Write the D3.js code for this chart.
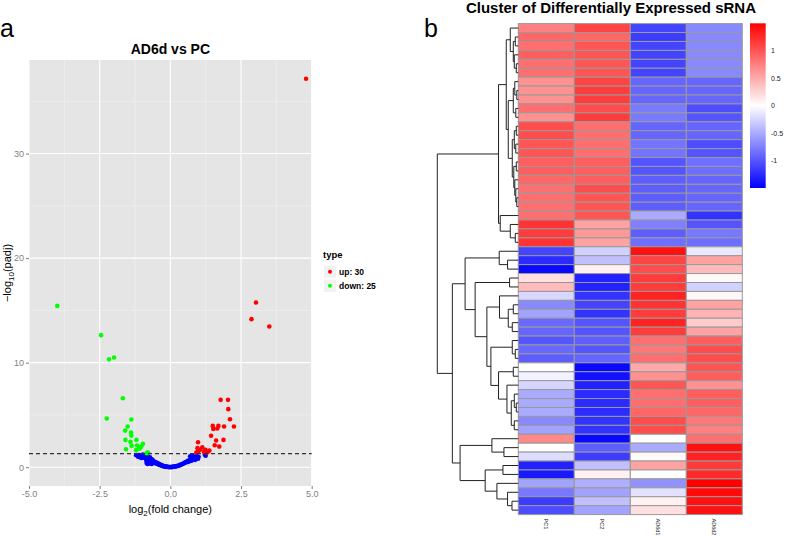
<!DOCTYPE html>
<html><head><meta charset="utf-8">
<script src="https://cdn.jsdelivr.net/npm/d3@7"></script>
<style>
body{margin:0;background:#fff}
svg{display:block;font-family:"Liberation Sans",Arial,Helvetica,sans-serif}
</style>
</head><body>
<svg id="c" width="787" height="536"></svg>
<script>
// ---------------- DATA ----------------
// Volcano plot: [log2 fold change, -log10(padj)]
const upPoints = [[4.80,37.16],[3.03,15.75],[2.87,14.16],[3.50,13.46],[1.78,6.44],[2.04,6.44],[2.05,5.55],[2.11,4.59],[2.25,3.89],[1.90,3.89],[1.70,3.95],[1.66,3.70],[1.50,3.95],[1.52,3.66],[1.44,3.00],[1.88,2.61],[1.62,2.55],[1.57,2.10],[1.73,1.97],[0.98,2.39],[1.13,1.91],[0.96,1.82],[0.99,1.50],[1.19,1.46],[1.34,1.50],[1.38,1.60],[0.92,1.40],[1.24,1.67],[1.05,1.67],[1.29,1.38]];
const downPoints = [[-4.00,15.43],[-2.45,12.63],[-2.17,10.33],[-1.99,10.49],[-1.68,6.60],[-2.25,4.65],[-1.38,4.56],[-1.51,3.89],[-1.60,3.50],[-1.39,3.31],[-1.38,3.02],[-1.59,2.61],[-1.41,2.42],[-1.20,2.61],[-1.18,2.07],[-0.97,2.23],[-1.03,1.97],[-1.10,1.78],[-1.21,1.63],[-1.57,1.72],[-0.81,1.40],[-0.78,1.35],[-1.08,1.80],[-1.37,2.04],[-0.84,1.33]];
const nsPoints = [[-1.21,1.15],[-1.14,1.00],[-1.10,1.15],[-1.08,0.95],[-1.02,0.88],[-0.97,1.20],[-0.95,0.90],[-0.90,1.10],[-0.88,0.95],[-0.86,0.80],[-0.85,0.65],[-0.84,0.40],[-0.83,1.05],[-0.82,0.90],[-0.81,0.30],[-0.80,0.75],[-0.79,0.60],[-0.78,1.00],[-0.77,0.45],[-0.76,0.85],[-0.75,0.70],[-0.74,0.55],[-0.73,0.35],[-0.72,0.95],[-0.71,0.80],[-0.70,0.65],[-0.69,0.50],[-0.67,0.75],[-0.66,0.30],[-0.65,0.60],[-0.63,0.70],[-0.62,0.50],[-0.60,0.58],[-0.58,0.45],[-0.56,0.52],[-0.54,0.40],[-0.52,0.47],[-0.50,0.36],[-0.48,0.42],[-0.46,0.32],[-0.44,0.36],[-0.42,0.27],[-0.40,0.30],[-0.38,0.22],[-0.36,0.25],[-0.34,0.18],[-0.32,0.20],[-0.30,0.14],[-0.28,0.16],[-0.26,0.10],[-0.24,0.12],[-0.22,0.08],[-0.20,0.09],[-0.18,0.06],[-0.15,0.05],[-0.12,0.03],[-0.10,0.04],[-0.08,0.02],[-0.05,0.01],[-0.03,0.02],[0.00,0.01],[0.03,0.02],[0.05,0.01],[0.08,0.03],[0.10,0.04],[0.13,0.05],[0.16,0.07],[0.19,0.08],[0.22,0.10],[0.25,0.12],[0.28,0.14],[0.31,0.17],[0.34,0.20],[0.37,0.24],[0.40,0.27],[0.43,0.31],[0.46,0.35],[0.49,0.40],[0.52,0.44],[0.55,0.50],[0.58,0.48],[0.60,0.55],[0.62,0.60],[0.65,0.52],[0.68,0.65],[0.70,1.05],[0.72,0.70],[0.75,0.62],[0.78,1.10],[0.80,0.75],[0.82,0.95],[0.85,0.80],[0.88,0.70],[0.92,1.15],[0.98,0.80],[1.00,1.00],[1.22,1.20],[1.25,1.10]];
const xTicks = [-5, -2.5, 0, 2.5, 5];
const xMinor = [-3.75, -1.25, 1.25, 3.75];
const yTicks = [0, 10, 20, 30];
const yMinor = [5, 15, 25, 35];
const padjCutoff = 0.05;
const legendLabels = ["up: 30", "down: 25"];

// Heatmap: row-scaled expression, columns PC1, PC2, AD6d1, AD6d2
const sampleNames = ["PC1", "PC2", "AD6d1", "AD6d2"];
const heatValues = [
[0.75,1.1,-1.1,-0.7],[0.9,0.9,-1.15,-0.7],[0.85,1.0,-1.1,-0.7],[0.95,1.0,-1.1,-0.7],[0.85,1.0,-1.1,-0.7],
[0.85,1.0,-1.1,-0.7],[0.65,1.1,-0.9,-0.9],[0.65,1.15,-0.9,-0.9],[0.65,1.15,-0.9,-0.9],[0.85,1.05,-0.78,-1.05],
[0.65,1.15,-0.78,-1.0],[1.05,0.85,-0.9,-0.9],[1.05,0.85,-0.9,-0.9],[1.0,0.85,-0.82,-1.05],[1.0,0.85,-0.82,-1.0],
[0.95,0.95,-1.0,-0.85],[0.95,0.95,-1.0,-0.85],[0.9,0.95,-0.95,-0.9],[0.85,1.05,-0.95,-0.9],[0.85,1.0,-0.95,-0.9],
[0.85,1.0,-0.95,-0.9],[0.85,1.0,-0.5,-1.2],[1.2,0.55,-0.75,-1.0],[1.15,0.6,-0.95,-0.8],[1.2,0.55,-0.85,-0.85],
[-1.1,-0.27,1.4,-0.13],[-1.25,-0.37,1.1,0.55],[-1.45,0.08,1.05,0.4],[0.18,-1.3,1.15,0.04],[0.4,-1.3,1.15,-0.27],
[-0.23,-1.2,1.3,0.05],[-0.7,-1.1,1.2,0.55],[-0.55,-1.2,1.15,0.45],[-0.88,-1.0,1.3,0.3],[-0.9,-1.0,1.15,0.55],
[-1.0,-0.95,0.85,0.95],[-0.88,-1.0,0.8,1.05],[-0.95,-0.9,0.85,1.05],[0.0,-1.45,0.5,1.0],[-0.08,-1.4,0.65,0.95],
[-0.25,-1.3,1.0,0.65],[-0.5,-1.25,0.85,0.95],[-0.5,-1.25,0.85,0.95],[-0.5,-1.25,0.9,0.9],[-0.7,-1.2,1.05,0.8],
[-0.55,-1.2,1.05,0.75],[0.7,-1.45,0.0,0.85],[0.0,-0.95,-0.5,1.4],[-0.2,-1.15,0.03,1.3],[-1.3,-0.37,0.55,1.15],
[-1.35,0.08,0.0,1.25],[-0.55,-0.47,-0.65,1.5],[-0.8,-0.55,-0.17,1.45],[-1.15,-0.37,0.08,1.4],[-1.05,-0.55,0.18,1.4]
];
// Row dendrogram: [merge height, left, right]; leaves are row indices
const rowTree = [8.07,
  [1.97,
    [1.2,
      [0.8, 0, [0.5, [0.3,1,2], [0.4,3,[0.2,4,5]]]],
      [1.0,
        [0.5, [0.35,6,[0.15,7,8]], [0.25,9,10]],
        [0.6, [0.4,[0.2,11,12],[0.25,13,14]], [0.45,[0.2,15,16],[0.35,17,[0.25,18,[0.15,19,20]]]]]]],
    [1.8, 21, [0.8, 22, [0.3, 23, 24]]]],
  [6.57,
    [5.3,
      [1.9, 25, [1.07, 26, 27]],
      [4.3,
        [0.87, 28, 29],
        [3.13,
          [1.87, 30, [1.0, [0.5,31,32], [0.6,33,34]]],
          [2.73,
            [0.6, 35, [0.3, 36, 37]],
            [1.97, [0.5,38,39], [1.13, 40, [0.7, [0.4,41,[0.2,42,43]], [0.4,44,45]]]]]]]],
    [5.8,
      [2.63, 46, [1.43, 47, 48]],
      [3.3, [1.53, 49, 50], [2.13, 51, [1.07, 52, [0.63, 53, 54]]]]]]];
const colorTicks = [1, 0.5, 0, -0.5, -1];
const colorDomain = [-1.5, 0, 1.5];

// ---------------- DRAW ----------------
const svg = d3.select("#c");

// Panel letters
svg.append("text").attr("x", 0).attr("y", 37).attr("font-size", 25).text("a");
svg.append("text").attr("x", 424).attr("y", 37).attr("font-size", 25).text("b");

// ===== Volcano =====
const P = {l: 29, r: 311.7, t: 60, b: 486};
const x = d3.scaleLinear().domain([-5, 5]).range([P.l, P.r]);
const y = d3.scaleLinear().domain([-1.8, 38.95]).range([P.b, P.t]);
const gV = svg.append("g");
gV.append("rect").attr("x", P.l).attr("y", P.t).attr("width", P.r - P.l).attr("height", P.b - P.t).attr("fill", "#E5E5E5");
gV.selectAll(".xm").data(xMinor).join("line").attr("x1", d => x(d)).attr("x2", d => x(d)).attr("y1", P.t).attr("y2", P.b).attr("stroke", "#F2F2F2").attr("stroke-width", 0.6);
gV.selectAll(".ym").data(yMinor).join("line").attr("y1", d => y(d)).attr("y2", d => y(d)).attr("x1", P.l).attr("x2", P.r).attr("stroke", "#F2F2F2").attr("stroke-width", 0.6);
gV.selectAll(".xM").data(xTicks).join("line").attr("x1", d => x(d)).attr("x2", d => x(d)).attr("y1", P.t).attr("y2", P.b).attr("stroke", "#fff").attr("stroke-width", 1.1);
gV.selectAll(".yM").data(yTicks).join("line").attr("y1", d => y(d)).attr("y2", d => y(d)).attr("x1", P.l).attr("x2", P.r).attr("stroke", "#fff").attr("stroke-width", 1.1);

const ptR = 2.3;
gV.selectAll(".ns").data(nsPoints).join("circle").attr("cx", d => x(d[0])).attr("cy", d => y(d[1])).attr("r", ptR).attr("fill", "#0000FF");
gV.selectAll(".dn").data(downPoints).join("circle").attr("cx", d => x(d[0])).attr("cy", d => y(d[1])).attr("r", ptR).attr("fill", "#00FF00");
gV.selectAll(".up").data(upPoints).join("circle").attr("cx", d => x(d[0])).attr("cy", d => y(d[1])).attr("r", ptR).attr("fill", "#FF0000");

const cut = -Math.log10(padjCutoff);
gV.append("line").attr("x1", P.l).attr("x2", P.r).attr("y1", y(cut)).attr("y2", y(cut))
  .attr("stroke", "#333").attr("stroke-width", 1.3).attr("stroke-dasharray", "4,3");

// axes
const ax = d3.axisBottom(x).tickValues(xTicks).tickFormat(d => d.toFixed(1)).tickSize(3).tickPadding(2);
const gx = gV.append("g").attr("transform", `translate(0,${P.b})`).call(ax);
const ay = d3.axisLeft(y).tickValues(yTicks).tickFormat(d => d).tickSize(3).tickPadding(2);
const gy = gV.append("g").attr("transform", `translate(${P.l},0)`).call(ay);
[gx, gy].forEach(g => {
  g.select(".domain").remove();
  g.selectAll("line").attr("stroke", "#7F7F7F");
  g.selectAll("text").attr("fill", "#7F7F7F").attr("font-size", 9).attr("font-family", "Liberation Sans, Arial, sans-serif");
});

// titles
gV.append("text").attr("x", (P.l + P.r) / 2).attr("y", 54).attr("text-anchor", "middle")
  .attr("font-size", 14).attr("font-weight", "bold").text("AD6d vs PC");
const xt = gV.append("text").attr("x", (P.l + P.r) / 2).attr("y", 513).attr("text-anchor", "middle").attr("font-size", 11);
xt.append("tspan").text("log");
xt.append("tspan").attr("font-size", 8).attr("dy", 3).text("2");
xt.append("tspan").attr("dy", -3).text("(fold change)");
const yt = gV.append("text").attr("transform", `translate(11,${(P.t + P.b) / 2}) rotate(-90)`).attr("text-anchor", "middle").attr("font-size", 11);
yt.append("tspan").text("\u2212log");
yt.append("tspan").attr("font-size", 8).attr("dy", 3).text("10");
yt.append("tspan").attr("dy", -3).text("(padj)");

// legend
const gL = svg.append("g");
gL.append("text").attr("x", 323).attr("y", 258).attr("font-size", 9.5).attr("font-weight", "bold").text("type");
const legCols = ["#FF0000", "#00FF00"];
legendLabels.forEach((lab, i) => {
  const yy = 265.5 + i * 14;
  gL.append("rect").attr("x", 324).attr("y", yy).attr("width", 12).attr("height", 12.5).attr("fill", "#F2F2F2");
  gL.append("circle").attr("cx", 330).attr("cy", yy + 6.2).attr("r", 2).attr("fill", legCols[i]);
  gL.append("text").attr("x", 339).attr("y", yy + 9.3).attr("font-size", 8.5).attr("font-weight", "bold").text(lab);
});

// ===== Heatmap =====
const H = {l: 518.3, r: 742.3, t: 23.6, b: 514.6};
const xCol = d3.scaleBand().domain(sampleNames).range([H.l, H.r]);
const yRow = d3.scaleBand().domain(d3.range(heatValues.length)).range([H.t, H.b]);
const col = d3.scaleLinear().domain(colorDomain).range(["#0000FF", "#FFFFFF", "#FF0000"]).clamp(true);
const gH = svg.append("g");
heatValues.forEach((row, i) => {
  gH.selectAll(null).data(row).join("rect")
    .attr("x", (d, j) => xCol(sampleNames[j])).attr("y", yRow(i))
    .attr("width", xCol.bandwidth()).attr("height", yRow.bandwidth())
    .attr("fill", d => col(d)).attr("stroke", "#999999").attr("stroke-width", 1);
});
// column labels
gH.selectAll(".cl").data(sampleNames).join("text")
  .attr("transform", d => `translate(${xCol(d) + xCol.bandwidth() / 2 - 2},${H.b + 4}) rotate(90)`)
  .attr("font-size", 5.5).attr("fill", "#222").text(d => d);

// title
svg.append("text").attr("x", 611).attr("y", 12.5).attr("text-anchor", "middle")
  .attr("font-size", 15).attr("font-weight", "bold").text("Cluster of Differentially Expressed sRNA");

// dendrogram
const root = d3.hierarchy(rowTree, d => Array.isArray(d) ? d.slice(1) : null);
const xDen = d3.scaleLinear().domain([0, rowTree[0]]).range([H.l, 437.3]);
root.eachAfter(n => {
  if (!n.children) { n.py = yRow(n.data) + yRow.bandwidth() / 2; n.hh = 0; }
  else { n.py = d3.mean(n.children, c => c.py); n.hh = n.data[0]; }
});
const links = root.descendants().filter(n => n.children);
svg.append("g").selectAll("path").data(links).join("path")
  .attr("d", n => {
    const [a, b] = n.children;
    return `M${xDen(a.hh)},${a.py}H${xDen(n.hh)}V${b.py}H${xDen(b.hh)}`;
  })
  .attr("fill", "none").attr("stroke", "#222").attr("stroke-width", 1);

// color legend
const C = {x: 750, w: 15.7, t: 23.3, b: 188};
const cy = d3.scaleLinear().domain([-1.5, 1.5]).range([C.b, C.t]);
const grad = svg.append("defs").append("linearGradient").attr("id", "cg").attr("x1", 0).attr("x2", 0).attr("y1", 1).attr("y2", 0);
d3.range(0, 1.0001, 0.05).forEach(t => {
  grad.append("stop").attr("offset", t).attr("stop-color", col(-1.5 + 3 * t));
});
svg.append("rect").attr("x", C.x).attr("y", C.t).attr("width", C.w).attr("height", C.b - C.t).attr("fill", "url(#cg)");
svg.selectAll(".ct").data(colorTicks).join("text")
  .attr("x", 771).attr("y", d => cy(d) + 2.5).attr("font-size", 7).attr("fill", "#222").text(d => d);
</script>
</body></html>
